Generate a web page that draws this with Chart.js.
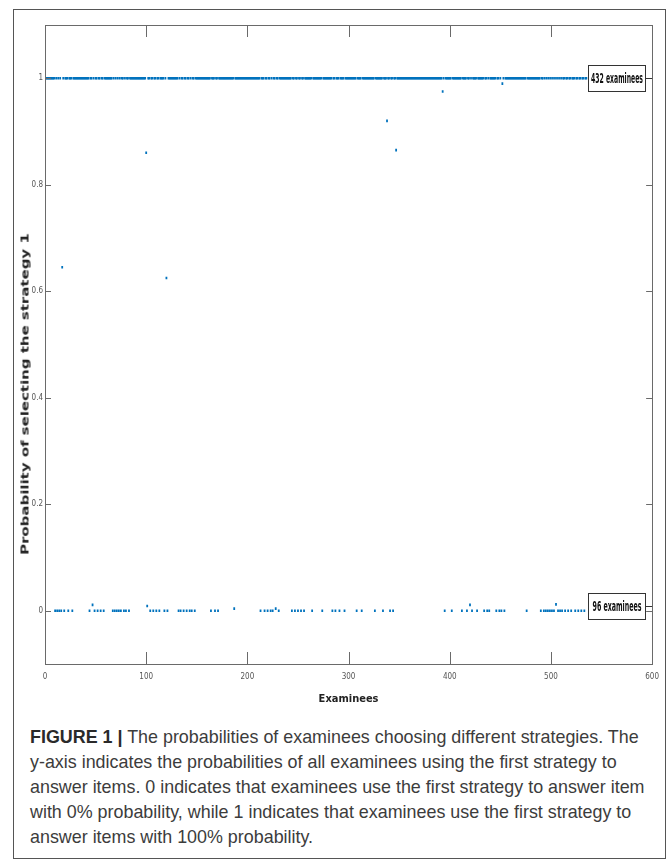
<!DOCTYPE html>
<html>
<head>
<meta charset="utf-8">
<script src="https://cdn.jsdelivr.net/npm/chart.js@4.4.1/dist/chart.umd.min.js"></script>
<style>
  html, body { margin:0; padding:0; background:#fff; }
  body { width:667px; height:866px; position:relative; overflow:hidden; }
  #frame { position:absolute; left:13px; top:9px; width:653px; height:850px; border:1px solid #555; box-sizing:border-box; }
  #wrap { position:absolute; left:0; top:0; width:667px; height:720px; }
  #ytitle { position:absolute; left:25px; top:394px; transform:translate(-50%,-50%) rotate(-90deg) scaleX(1.36); white-space:nowrap;
            font-family:"DejaVu Sans", sans-serif; font-weight:bold; font-size:11px; line-height:11px; color:#222; }
  #caption { position:absolute; left:30px; top:725px; width:636px; font-family:"Liberation Sans", Arial, sans-serif;
             font-size:17.9px; line-height:25px; color:#3c3c3c; white-space:nowrap; }
  #caption b { color:#2a2a2a; }
</style>
</head>
<body>
<div id="frame"></div>
<div id="wrap"><canvas id="c" width="667" height="720"></canvas></div>
<div id="ytitle">Probability of selecting the strategy 1</div>
<div id="caption"><b>FIGURE 1 |</b> The probabilities of examinees choosing different strategies. The<br>y-axis indicates the probabilities of all examinees using the first strategy to<br>answer items. 0 indicates that examinees use the first strategy to answer item<br>with 0% probability, while 1 indicates that examinees use the first strategy to<br>answer items with 100% probability.</div>
<script>
// ---- data (examinee index -> probability of selecting strategy 1) ----
const onesX = [1,2,3,4,5,6,7,8,9,11,13,15,18,20,21,22,24,25,26,
28,29,30,31,32,33,34,35,36,37,38,39,40,41,42,43,45,46,48,50,51,53,54,56,57,
59,60,61,62,63,64,65,66,68,70,72,74,76,77,79,81,82,
84,85,86,87,88,89,90,91,92,93,94,95,96,97,98,99,102,103,105,106,108,109,111,112,
114,115,116,117,119,122,123,124,125,126,127,128,129,130,131,133,135,136,138,139,141,142,144,146,147,
149,150,151,152,153,154,155,156,157,158,159,160,161,162,163,165,166,167,169,170,
172,173,174,175,176,177,178,179,180,181,182,183,184,185,186,
188,189,190,191,192,193,194,195,196,197,198,199,200,201,202,203,204,205,206,207,208,209,210,211,212,
214,215,216,218,219,221,222,224,226,227,229,230,
232,233,234,235,236,237,238,239,240,241,242,243,245,246,248,249,251,252,254,255,
257,258,259,260,261,262,263,265,266,267,268,269,270,271,272,273,
275,276,277,278,279,280,281,282,283,285,286,288,289,290,292,293,294,295,
297,298,299,300,301,302,303,304,305,306,307,309,310,311,312,
314,315,316,317,318,319,320,321,322,323,324,325,327,328,329,330,331,332,333,335,336,337,339,340,342,343,345,346,
348,349,350,351,352,353,354,355,356,357,358,359,360,361,362,363,364,365,366,367,368,369,370,371,372,373,374,375,376,377,378,379,380,381,382,383,384,385,386,387,388,389,390,391,392,
394,396,397,398,399,400,401,403,404,405,406,407,408,409,410,411,413,414,415,416,418,419,421,423,424,425,426,
428,429,430,431,432,433,435,436,438,440,441,442,443,444,445,447,448,450,453,
455,456,457,458,459,460,461,462,463,464,465,466,467,468,469,470,471,472,473,474,475,
477,478,479,480,481,482,483,484,485,486,487,488,489,
491,492,494,496,498,500,502,504,506,508,510,512,513,515,516,518,519,521,522,523,525,526,528,529,531,532,534,535];

const zerosX = [10,12,14,16,19,23,27,44,49,52,55,58,67,69,71,73,75,78,80,83,
104,107,110,113,118,121,132,134,137,140,143,145,148,164,168,171,
213,217,220,223,225,231,244,247,250,253,256,264,274,284,287,291,296,
308,313,326,334,341,344,395,402,412,417,422,427,434,437,439,446,449,451,454,476,
490,493,495,497,499,501,503,507,509,511,514,517,520,524,527,530,533];

const nearZeroX = [47, 101, 187, 228, 420, 505];
const nearZeroY = [0.011, 0.009, 0.004, 0.004, 0.011, 0.012];

const midX = [17, 100, 120, 338, 347, 393, 452];
const midY = [0.645, 0.86, 0.625, 0.92, 0.865, 0.975, 0.99];

const xTicks = [0, 100, 200, 300, 400, 500, 600];
const yTicks = [0, 0.2, 0.4, 0.6, 0.8, 1];

const noteLabels = ["432 examinees", "96 examinees"];
const noteY = [1, 0.008];

// ---- chart ----
const pts = (xs, ys) => xs.map((x, i) => ({ x: x, y: Array.isArray(ys) ? ys[i] : ys }));
const dotStyle = { backgroundColor:'#0072BD', borderColor:'#0072BD', borderWidth:2.6, pointStyle:'line', pointRadius:0.9, showLine:false };

const framePlugin = {
  id: 'framePlugin',
  afterDatasetsDraw(chart) {
    const { ctx, chartArea: a, scales: { x, y } } = chart;
    ctx.save();
    ctx.strokeStyle = '#6a6a6a';
    ctx.lineWidth = 1;
    ctx.strokeRect(Math.round(a.left) + 0.5, Math.round(a.top) + 0.5, Math.round(a.right - a.left), Math.round(a.bottom - a.top));
    ctx.beginPath();
    xTicks.forEach(v => {
      if (v <= x.min || v >= x.max) return;
      const px = Math.round(x.getPixelForValue(v)) + 0.5;
      ctx.moveTo(px, a.bottom); ctx.lineTo(px, a.bottom - 12);
      ctx.moveTo(px, a.top); ctx.lineTo(px, a.top + 12);
    });
    yTicks.forEach(v => {
      const py = Math.round(y.getPixelForValue(v)) + 0.5;
      ctx.moveTo(a.left, py); ctx.lineTo(a.left + 6, py);
      ctx.moveTo(a.right, py); ctx.lineTo(a.right - 6, py);
    });
    ctx.stroke();
    // annotation boxes
    noteLabels.forEach((label, i) => {
      const cy = Math.round(y.getPixelForValue(noteY[i]));
      const w = 57, h = 26;
      const bx = Math.round(a.right) - 7 - w;
      const by = cy - h / 2;
      ctx.fillStyle = '#fff';
      ctx.fillRect(bx, by, w, h);
      ctx.strokeStyle = '#333';
      ctx.lineWidth = 1;
      ctx.strokeRect(bx + 0.5, by + 0.5, w, h);
      ctx.beginPath();
      ctx.moveTo(bx + w, cy + 0.5); ctx.lineTo(a.right, cy + 0.5);
      ctx.stroke();
      ctx.save();
      ctx.font = 'bold 14px "Liberation Sans Narrow", "DejaVu Sans Condensed", sans-serif';
      const tw = ctx.measureText(label).width;
      const target = label.length > 12 ? 52 : 49;
      ctx.translate(bx + w / 2 + 0.5, cy + 1);
      ctx.scale(target / tw, 1);
      ctx.fillStyle = '#111';
      ctx.textAlign = 'center';
      ctx.textBaseline = 'middle';
      ctx.fillText(label, 0, 0);
      ctx.restore();
    });
    ctx.restore();
  }
};

new Chart(document.getElementById('c'), {
  type: 'scatter',
  data: {
    datasets: [
      Object.assign({ label: 'p = 1', data: pts(onesX, 1) }, dotStyle),
      Object.assign({ label: 'p = 0', data: pts(zerosX, 0) }, dotStyle),
      Object.assign({ label: 'p near 0', data: pts(nearZeroX, nearZeroY) }, dotStyle),
      Object.assign({ label: 'intermediate', data: pts(midX, midY) }, dotStyle)
    ]
  },
  options: {
    responsive: false,
    animation: false,
    events: [],
    layout: { padding: { top: 25, right: 14, left: 0, bottom: 0 } },
    plugins: { legend: { display: false }, tooltip: { enabled: false } },
    scales: {
      x: {
        type: 'linear', min: 0, max: 600,
        grid: { display: false, drawTicks: false },
        border: { display: false },
        afterBuildTicks: s => { s.ticks = xTicks.map(v => ({ value: v })); },
        afterFit: s => { s.height = 56; },
        ticks: { padding: 8, color: '#555', maxRotation: 0,
                 font: { family: '"Liberation Sans Narrow", "DejaVu Sans Condensed", sans-serif', size: 8 },
                 callback: v => String(v) },
        title: { display: true, text: 'Examinees', color: '#222', padding: { top: 0, bottom: 14 },
                 font: { family: '"Liberation Sans Narrow", "DejaVu Sans Condensed", sans-serif', size: 11, weight: 'bold' } }
      },
      y: {
        type: 'linear', min: -0.1, max: 1.1,
        grid: { display: false, drawTicks: false },
        border: { display: false },
        afterBuildTicks: s => { s.ticks = yTicks.map(v => ({ value: v })); },
        afterFit: s => { s.width = 45; },
        ticks: { padding: 2, color: '#555',
                 font: { family: '"Liberation Sans Narrow", "DejaVu Sans Condensed", sans-serif', size: 8 },
                 callback: v => String(v) }
      }
    }
  },
  plugins: [framePlugin]
});
</script>
</body>
</html>
